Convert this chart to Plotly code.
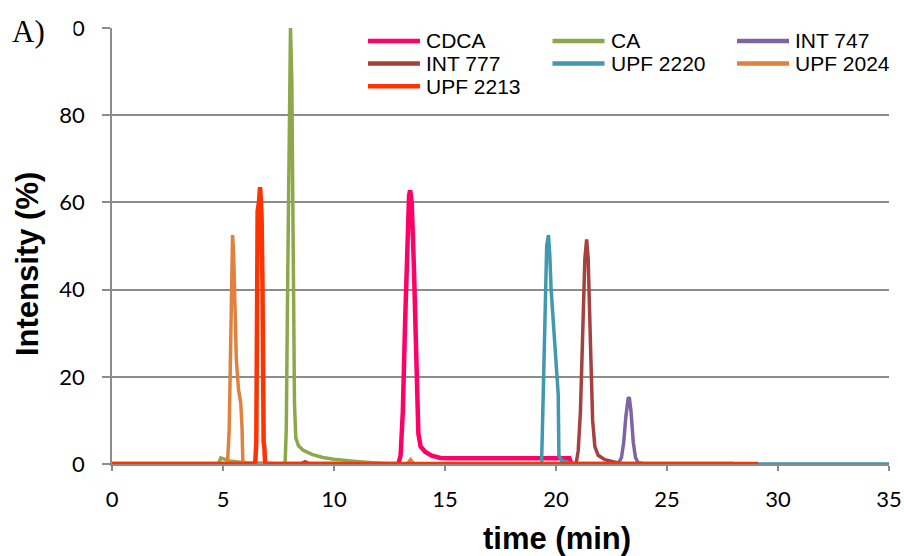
import plotly.graph_objects as go

# ---- data ----
cdca_t = [0, 12.9, 13.0, 13.1, 13.2, 13.3, 13.38, 13.43, 13.5, 13.6, 13.7, 13.8, 13.9, 14.1, 14.4, 14.8, 15.2, 17.0, 20.6, 20.7, 28.0]
cdca_i = [0, 0, 2, 12, 32, 52, 61.5, 62.8, 60, 45, 22, 7, 4, 2.8, 1.9, 1.4, 1.3, 1.3, 1.3, 0, 0]

ca_t = [0, 4.8, 4.9, 5.0, 5.3, 6.0, 7.75, 7.8, 7.85, 7.92, 7.98, 8.04, 8.1, 8.16, 8.22, 8.28, 8.4, 8.6, 9.0, 9.5, 10.0, 11.0, 12.0, 12.5, 28.0]
ca_i = [0, 0, 1.4, 1.2, 0.7, 0.3, 0, 0.5, 8, 45, 85, 100, 88, 50, 14, 6, 4.2, 3.2, 2.2, 1.5, 1.1, 0.6, 0.3, 0, 0]

int747_t = [0, 22.8, 22.95, 23.05, 23.15, 23.25, 23.3, 23.38, 23.48, 23.58, 23.7, 24.0, 28.0]
int747_i = [0, 0, 1.5, 5, 11, 15, 15.3, 12, 5, 1.5, 0.3, 0, 0]

int777_t = [0, 8.5, 8.7, 8.9, 20.9, 21.0, 21.1, 21.2, 21.3, 21.38, 21.45, 21.55, 21.65, 21.75, 21.9, 22.2, 22.6, 23.0, 28.0]
int777_i = [0, 0, 0.5, 0, 0, 3, 12, 30, 47, 51.5, 47, 28, 10, 4, 2, 1, 0.5, 0, 0]

upf2220_t = [0, 19.35, 19.42, 19.5, 19.58, 19.66, 19.72, 19.78, 19.9, 20.0, 20.1, 20.13, 20.25, 20.6, 21.0, 35.0]
upf2220_i = [0, 0, 15, 35, 50, 52.5, 48, 40, 30, 22, 16, 2, 0.8, 0.3, 0, 0]

upf2024_t = [0, 5.2, 5.28, 5.34, 5.39, 5.43, 5.48, 5.53, 5.6, 5.7, 5.8, 5.86, 5.89, 5.95, 13.3, 13.45, 13.6, 28.0]
upf2024_i = [0, 0, 8, 30, 48, 52.5, 48, 35, 24, 17, 14, 8, 1, 0, 0, 1, 0, 0]

upf2213_t = [0, 6.45, 6.5, 6.53, 6.56, 6.62, 6.67, 6.71, 6.74, 6.78, 6.8, 6.83, 6.86, 6.9, 29.1]
upf2213_i = [0, 0, 5, 45, 58, 60, 63.5, 60, 56, 40, 10, 5, 4, 0, 0]

series_names = ["CDCA", "CA", "INT 747", "INT 777", "UPF 2220", "UPF 2024", "UPF 2213"]
series_t = [cdca_t, ca_t, int747_t, int777_t, upf2220_t, upf2024_t, upf2213_t]
series_i = [cdca_i, ca_i, int747_i, int777_i, upf2220_i, upf2024_i, upf2213_i]
colors = ["#FF0066", "#8DA84A", "#8064A2", "#A5423F", "#4198AF", "#E0823E", "#FF3300"]
widths = [4.5, 3.5, 3.5, 3.5, 3.5, 3.5, 4.5]

x_ticks = [0, 5, 10, 15, 20, 25, 30, 35]
y_ticks = [0, 20, 40, 60, 80, 100]
y_ticktext = ["0", "20", "40", "60", "80", "100"]

# plot-area geometry in pixels (used for paper-coordinate placement of legend/titles)
L, R, T, B = 112, 889, 28, 464
W, H = R - L, B - T


def px(xp):
    return (xp - L) / W


def py(yp):
    return (B - yp) / H


fig = go.Figure()
for name, t, inten, c, w in zip(series_names, series_t, series_i, colors, widths):
    fig.add_trace(go.Scatter(x=t, y=inten, mode="lines", name=name, showlegend=False,
                             line=dict(color=c, width=w)))

font_main = "Liberation Sans, Arial, sans-serif"
font_ticks = "Lato, Carlito, Calibri, sans-serif"

annotations = [
    # white patch: the reference image is cropped so only the last digit of "100" shows
    dict(text=" ", xref="paper", yref="paper", x=px(0), y=py(28),
         xanchor="left", yanchor="middle", showarrow=False,
         width=72, height=30, bgcolor="white", borderpad=0,
         font=dict(size=10)),
    dict(text="A)", xref="paper", yref="paper", x=px(10), y=py(31),
         xanchor="left", yanchor="middle", showarrow=False,
         font=dict(family="Liberation Serif, Times New Roman, serif", size=31, color="black")),
    dict(text="<b>Intensity (%)</b>", xref="paper", yref="paper", x=px(27), y=py(264),
         xanchor="center", yanchor="middle", textangle=-90, showarrow=False,
         font=dict(family=font_main, size=31, color="black")),
    dict(text="<b>time (min)</b>", xref="paper", yref="paper", x=px(557), y=py(538),
         xanchor="center", yanchor="middle", showarrow=False,
         font=dict(family=font_main, size=31, color="black")),
]
shapes = []

# manual legend: 3 columns, rows filled left-to-right
for k, (name, c) in enumerate(zip(series_names, colors)):
    col, row = k % 3, k // 3
    x0 = 368 + 184.5 * col
    yc = 41 + 22.6 * row
    shapes.append(dict(type="line", xref="paper", yref="paper",
                       x0=px(x0), x1=px(x0 + 52), y0=py(yc), y1=py(yc),
                       line=dict(color=c, width=4.5)))
    annotations.append(dict(text=name, xref="paper", yref="paper", x=px(x0 + 56), y=py(yc),
                            xanchor="left", yanchor="middle", showarrow=False,
                            font=dict(family=font_main, size=21, color="black")))

fig.update_layout(
    width=904, height=556,
    margin=dict(l=L, r=904 - R, t=T, b=556 - B, autoexpand=False),
    paper_bgcolor="white", plot_bgcolor="white",
    font=dict(family=font_main, color="black", size=22),
    showlegend=False,
    xaxis=dict(range=[0, 35], tickvals=x_ticks, showgrid=False, zeroline=False,
               showline=True, linecolor="#8C8C8C", linewidth=1.5,
               ticks="outside", ticklen=5, tickcolor="#8C8C8C", tickwidth=1.5,
               ticklabelstandoff=10, ticklabeloverflow="allow", automargin=False,
               tickfont=dict(family=font_ticks, size=22)),
    yaxis=dict(range=[0, 100], tickvals=y_ticks, ticktext=y_ticktext,
               showgrid=True, gridcolor="#8C8C8C", gridwidth=1.5, zeroline=False,
               showline=True, linecolor="#8C8C8C", linewidth=1.5,
               ticks="outside", ticklen=8, tickcolor="#8C8C8C", tickwidth=1.5,
               ticklabelstandoff=13, ticklabeloverflow="allow", automargin=False,
               tickfont=dict(family=font_ticks, size=22)),
    annotations=annotations,
    shapes=shapes,
)

fig.write_html("out.html")
